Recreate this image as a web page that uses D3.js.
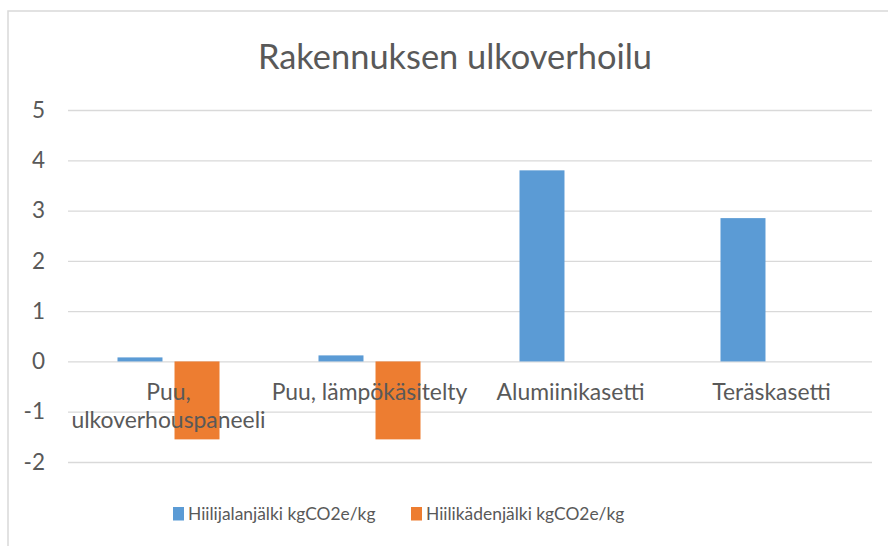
<!DOCTYPE html>
<html>
<head>
<meta charset="utf-8">
<script src="https://cdn.jsdelivr.net/npm/d3@7"></script>
<style>
  html, body { margin: 0; padding: 0; background: #fff; }
  svg { display: block; }
  text { font-family: Lato, "Open Sans", sans-serif; fill: #595959; }
</style>
</head>
<body>
<svg id="chart" width="888" height="546"></svg>
<script>
const title = "Rakennuksen ulkoverhoilu";
const categories = [["Puu,", "ulkoverhouspaneeli"], ["Puu, lämpökäsitelty"], ["Alumiinikasetti"], ["Teräskasetti"]];
const seriesNames = ["Hiilijalanjälki kgCO2e/kg", "Hiilikädenjälki kgCO2e/kg"];
const footprint = [0.08, 0.12, 3.8, 2.85];
const handprint = [-1.55, -1.55, null, null];
const yTicks = [-2, -1, 0, 1, 2, 3, 4, 5];
const colors = ["#5B9BD5", "#ED7D31"];

const svg = d3.select("#chart");
const W = 888, H = 546;
const plot = { left: 68, right: 872, top: 110, bottom: 462 };

// outer chart border (extends past the canvas on right/bottom)
svg.append("rect").attr("x", 8).attr("y", 11).attr("width", W).attr("height", H)
  .attr("fill", "none").attr("stroke", "#D9D9D9").attr("stroke-width", 1.5);

svg.append("text").attr("x", 455).attr("y", 69).attr("text-anchor", "middle")
  .style("font-size", "34.4px").text(title);

const catKeys = categories.map((c, i) => i);
const x0 = d3.scaleBand().domain(catKeys).range([plot.left, plot.right]).padding(0);
const x1 = d3.scaleBand().domain([0, 1]).range([0, x0.bandwidth()])
  .paddingInner(0.211).paddingOuter(0.868);
const y = d3.scaleLinear().domain([-2, 5]).range([plot.bottom, plot.top]);

// gridlines + y labels
const yAxis = d3.axisLeft(y).tickValues(yTicks).tickSize(-(plot.right - plot.left))
  .tickFormat(d => String(d)).tickPadding(23);
const gy = svg.append("g").attr("transform", `translate(${plot.left},0)`).call(yAxis);
gy.select(".domain").remove();
gy.selectAll(".tick line").attr("stroke", "#D9D9D9").attr("stroke-width", 1.3);
gy.selectAll(".tick text").style("font-size", "22.5px").attr("fill", "#595959")
  .style("font-family", "Lato, sans-serif");

// bars
const series = [footprint, handprint];
series.forEach((vals, s) => {
  svg.append("g").selectAll("rect").data(vals.map((v, i) => ({ v, i })).filter(d => d.v !== null))
    .join("rect")
    .attr("x", d => x0(d.i) + x1(s))
    .attr("width", x1.bandwidth())
    .attr("y", d => y(Math.max(0, d.v)))
    .attr("height", d => Math.abs(y(d.v) - y(0)))
    .attr("fill", colors[s]);
});

// category labels
const catG = svg.append("g");
categories.forEach((lines, i) => {
  const t = catG.append("text").attr("text-anchor", "middle").style("font-size", "22.9px");
  lines.forEach((ln, j) => {
    t.append("tspan").attr("x", x0(i) + x0.bandwidth() / 2).attr("y", 400 + j * 28).text(ln);
  });
});

// legend
const legendX = [173, 411];
seriesNames.forEach((name, s) => {
  const g = svg.append("g").attr("transform", `translate(${legendX[s]},507)`);
  g.append("rect").attr("width", 11).attr("height", 13.5).attr("fill", colors[s]);
  g.append("text").attr("x", 15).attr("y", 12.5).style("font-size", "17.4px").text(name);
});
</script>
</body>
</html>
